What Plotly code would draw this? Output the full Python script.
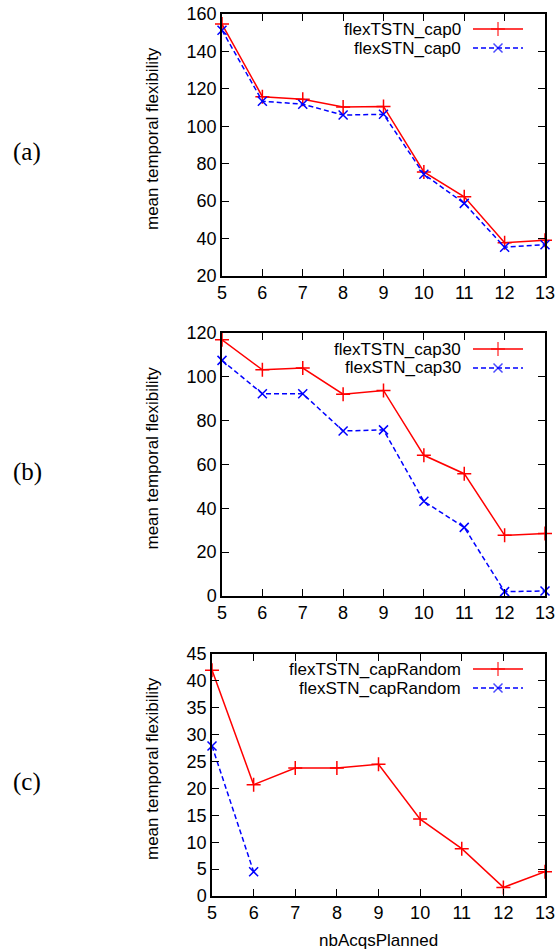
import plotly.graph_objects as go

W, H = 559, 952

# ---------------- data ----------------
nbAcqsPlanned = [5, 6, 7, 8, 9, 10, 11, 12, 13]

flexTSTN_cap0 = [154.6, 115.8, 114.5, 110.3, 110.6, 75.6, 62.3, 37.8, 39.1]
flexSTN_cap0 = [151.3, 113.4, 111.8, 106.0, 106.4, 74.4, 58.8, 35.4, 36.7]

flexTSTN_cap30 = [116.9, 103.2, 104.0, 92.1, 93.8, 64.2, 55.8, 27.7, 28.5]
flexSTN_cap30 = [107.5, 92.3, 92.3, 75.3, 75.8, 43.2, 31.3, 2.0, 2.3]

flexTSTN_capRandom = [42.0, 20.7, 23.8, 23.8, 24.5, 14.3, 8.8, 1.6, 4.5]
nbAcqs_STN_capRandom = [5, 6]
flexSTN_capRandom = [27.9, 4.5]

legend_names = [
    ("flexTSTN_cap0", "flexSTN_cap0"),
    ("flexTSTN_cap30", "flexSTN_cap30"),
    ("flexTSTN_capRandom", "flexSTN_capRandom"),
]
panel_labels = ["(a)", "(b)", "(c)"]
y_title = "mean temporal flexibility"
x_title = "nbAcqsPlanned"

# ---------------- layout helpers (pixels -> paper) ----------------
def px(x):
    return x / W

def py(y):
    return 1 - y / H

RED = "#ff0000"
BLUE = "#0000ff"
FONT = "Liberation Sans, Arial, Helvetica, sans-serif"
FS = 17

# panel boxes: (left, right, top, bottom) in px
boxes = [(222, 545, 14, 276), (222, 545, 333, 596), (212, 545, 654, 896)]
yranges = [(20, 160, 20), (0, 120, 20), (0, 45, 5)]

red_series = [flexTSTN_cap0, flexTSTN_cap30, flexTSTN_capRandom]
blue_x = [nbAcqsPlanned, nbAcqsPlanned, nbAcqs_STN_capRandom]
blue_series = [flexSTN_cap0, flexSTN_cap30, flexSTN_capRandom]

red_style = dict(line=dict(color=RED, width=1.5),
                 marker=dict(symbol="cross-thin", size=10, color=RED,
                             line=dict(color=RED, width=1.5)))
blue_style = dict(line=dict(color=BLUE, width=1.5, dash="5px,3px"),
                  marker=dict(symbol="x-thin", size=9, color=BLUE,
                              line=dict(color=BLUE, width=1.5)))

fig = go.Figure()
layout = dict(
    width=W, height=H,
    margin=dict(l=0, r=0, t=0, b=0, pad=0, autoexpand=False),
    paper_bgcolor="white", plot_bgcolor="rgba(0,0,0,0)",
    showlegend=False,
    font=dict(family=FONT, size=FS, color="black"),
)

axis_common = dict(
    showline=True, linecolor="black", linewidth=1.5, mirror="allticks",
    ticks="inside", ticklen=7, tickwidth=1.2, tickcolor="black",
    showgrid=False, zeroline=False, automargin=False,
    tickfont=dict(family=FONT, size=18, color="black"),
)

annotations = []

legend_rows = [(29, 48), (349, 368), (669, 688)]

for i in range(3):
    n = "" if i == 0 else str(i + 1)
    l, r, t, b = boxes[i]
    y0, y1, dy = yranges[i]
    layout["xaxis" + n] = dict(axis_common, domain=[px(l), px(r)], range=[5, 13],
                               dtick=1, anchor="y" + n)
    layout["yaxis" + n] = dict(axis_common, domain=[py(b), py(t)], range=[y0, y1],
                               dtick=dy, anchor="x" + n)
    fig.add_trace(go.Scatter(x=nbAcqsPlanned, y=red_series[i], mode="lines+markers",
                             xaxis="x" + n, yaxis="y" + n, cliponaxis=False,
                             name=legend_names[i][0], **red_style))
    fig.add_trace(go.Scatter(x=blue_x[i], y=blue_series[i], mode="lines+markers",
                             xaxis="x" + n, yaxis="y" + n, cliponaxis=False,
                             name=legend_names[i][1], **blue_style))

    # y-axis title
    annotations.append(dict(text=y_title, textangle=-90, x=px(152), y=py((t + b) / 2 - 6),
                            xref="paper", yref="paper", showarrow=False,
                            xanchor="center", yanchor="middle",
                            font=dict(family=FONT, size=FS, color="black")))
    # panel label
    annotations.append(dict(text=panel_labels[i], x=px(27), y=py((t + b) / 2 + 7),
                            xref="paper", yref="paper", showarrow=False,
                            xanchor="center", yanchor="middle",
                            font=dict(family="Liberation Serif, DejaVu Serif, serif",
                                      size=25, color="black")))
    # manual legend (text right-aligned, sample to the right, gnuplot-style)
    r1, r2 = legend_rows[i]
    for name, yy in zip(legend_names[i], (r1, r2)):
        annotations.append(dict(text=name, x=px(463), y=py(yy),
                                xref="paper", yref="paper", showarrow=False,
                                xanchor="right", yanchor="middle",
                                font=dict(family=FONT, size=FS, color="black")))

# overlay pixel-space axis for legend samples
layout["xaxis4"] = dict(domain=[0, 1], range=[0, W], visible=False, anchor="y4",
                        fixedrange=True)
layout["yaxis4"] = dict(domain=[0, 1], range=[H, 0], visible=False, anchor="x4",
                        fixedrange=True)
sample_x = [473, 498, 523]
for i in range(3):
    r1, r2 = legend_rows[i]
    fig.add_trace(go.Scatter(x=sample_x, y=[r1] * 3, mode="lines+markers",
                             xaxis="x4", yaxis="y4", hoverinfo="skip", cliponaxis=False,
                             line=red_style["line"],
                             marker=dict(red_style["marker"], size=[0, 10, 0])))
    fig.add_trace(go.Scatter(x=sample_x, y=[r2] * 3, mode="lines+markers",
                             xaxis="x4", yaxis="y4", hoverinfo="skip", cliponaxis=False,
                             line=blue_style["line"],
                             marker=dict(blue_style["marker"], size=[0, 9, 0])))

# x-axis title
annotations.append(dict(text=x_title, x=px(378), y=py(940), xref="paper", yref="paper",
                        showarrow=False, xanchor="center", yanchor="middle",
                        font=dict(family=FONT, size=FS, color="black")))

layout["annotations"] = annotations
fig.update_layout(**layout)
fig.write_html("out.html", config={"displayModeBar": False},
               post_script="document.body.style.margin='0';document.body.style.overflow='hidden';")
